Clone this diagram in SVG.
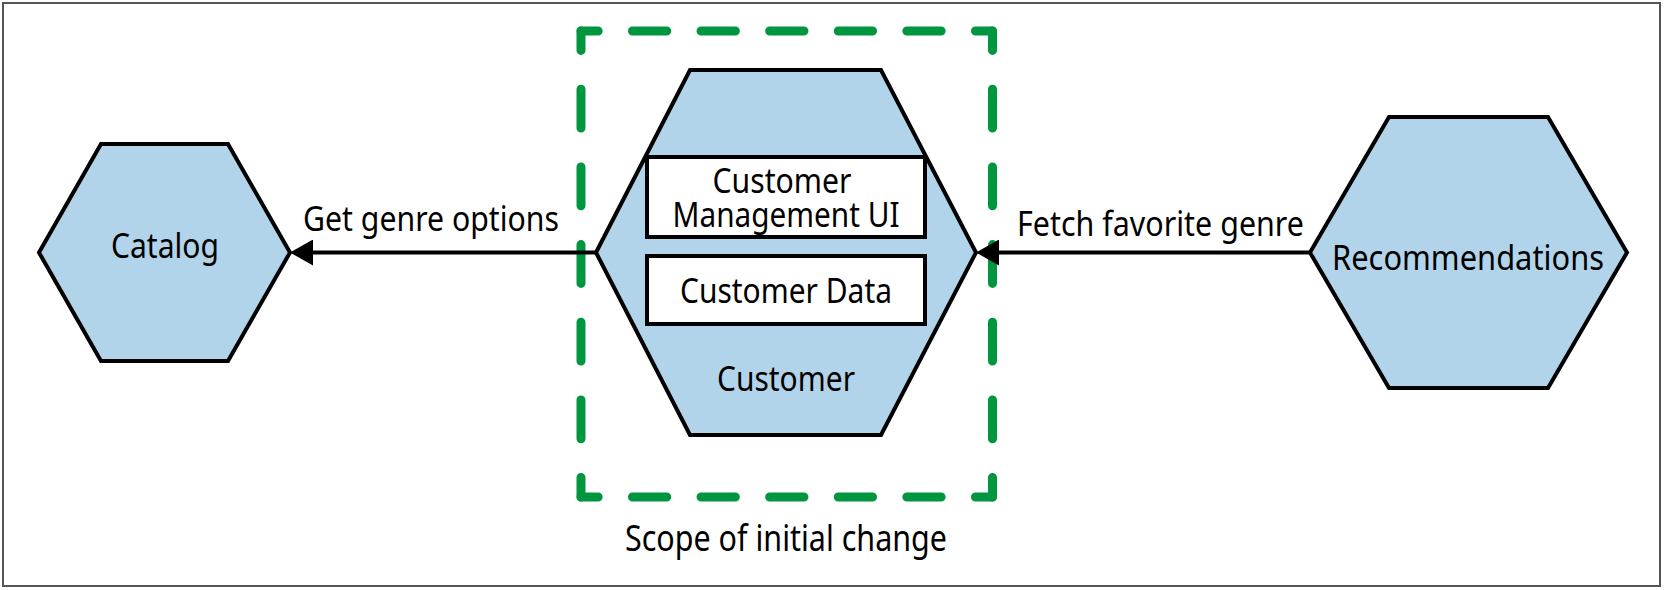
<svg xmlns="http://www.w3.org/2000/svg" width="1664" height="590" viewBox="0 0 1664 590">
<style>
.hex{fill:#b2d4ea;stroke:#000;stroke-width:4;stroke-linejoin:miter}
.box{fill:#fff;stroke:#000;stroke-width:4}
.t{font-family:"Noto Sans","Open Sans","DejaVu Sans",sans-serif;font-size:35px;fill:#000;text-anchor:middle}
.big{font-size:37px}
.scope{fill:none;stroke:#00963f;stroke-width:9;stroke-linecap:round}
.conn{stroke:#000;stroke-width:4;fill:none}
</style>
<defs>
<marker id="arrow" viewBox="0 0 23 26" refX="8" refY="13" markerWidth="23" markerHeight="26" markerUnits="userSpaceOnUse" orient="auto">
<path d="M0,0 L23,13 L0,26 z" fill="#000"/>
</marker>
</defs>
<rect x="3" y="3" width="1657" height="583" fill="#fff" stroke="#555" stroke-width="2"/>
<g id="scope">
<line class="scope" x1="581" y1="31" x2="992.5" y2="31" stroke-dasharray="34.3 34.3" stroke-dashoffset="17.15"/>
<line class="scope" x1="581" y1="497" x2="992.5" y2="497" stroke-dasharray="34.3 34.3" stroke-dashoffset="17.15"/>
<line class="scope" x1="581" y1="31" x2="581" y2="497" stroke-dasharray="38.83 38.83" stroke-dashoffset="19.42"/>
<line class="scope" x1="992.5" y1="31" x2="992.5" y2="497" stroke-dasharray="38.83 38.83" stroke-dashoffset="19.42"/>
<text class="t big" x="786" y="551" textLength="322" lengthAdjust="spacingAndGlyphs">Scope of initial change</text>
</g>
<g id="catalog">
<polygon class="hex" points="39,252.5 101,144 228,144 290,252.5 228,361 101,361"/>
<text class="t" x="165" y="257.5" textLength="108" lengthAdjust="spacingAndGlyphs">Catalog</text>
</g>
<g id="customer">
<polygon class="hex" points="596,252.5 690,70 881,70 976,252.5 881,435 690,435"/>
<rect class="box" x="647" y="157" width="278" height="80"/>
<text class="t" x="782" y="192.7" textLength="139" lengthAdjust="spacingAndGlyphs">Customer</text>
<text class="t" x="786" y="226.7" textLength="227" lengthAdjust="spacingAndGlyphs">Management UI</text>
<rect class="box" x="647" y="256" width="278" height="68"/>
<text class="t" x="786" y="303.3" textLength="212" lengthAdjust="spacingAndGlyphs">Customer Data</text>
<text class="t" x="786" y="391" textLength="138" lengthAdjust="spacingAndGlyphs">Customer</text>
</g>
<g id="recommendations">
<polygon class="hex" points="1310,252.5 1389,117 1548,117 1627,252.5 1548,388 1389,388"/>
<text class="t" x="1468" y="270" textLength="272" lengthAdjust="spacingAndGlyphs">Recommendations</text>
</g>
<g id="connectors">
<line class="conn" x1="596" y1="252.5" x2="305" y2="252.5" marker-end="url(#arrow)"/>
<text class="t" x="431" y="231" textLength="256" lengthAdjust="spacingAndGlyphs">Get genre options</text>
<line class="conn" x1="1310" y1="252.5" x2="991" y2="252.5" marker-end="url(#arrow)"/>
<text class="t" x="1160.5" y="235.5" textLength="287" lengthAdjust="spacingAndGlyphs">Fetch favorite genre</text>
</g>
</svg>
